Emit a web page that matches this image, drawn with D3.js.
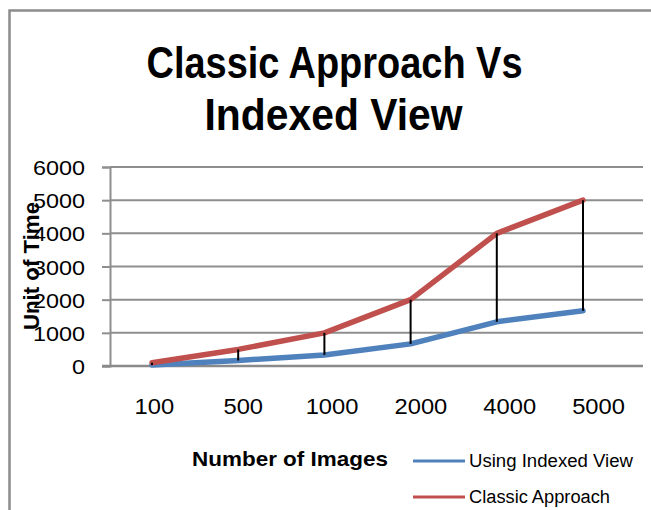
<!DOCTYPE html>
<html>
<head>
<meta charset="utf-8">
<script src="https://cdn.jsdelivr.net/npm/d3@7"></script>
<style>
  html, body { margin: 0; padding: 0; background: #fff; }
  svg { display: block; font-family: "Liberation Sans", Arial, sans-serif; }
</style>
</head>
<body>
<svg id="chart" width="651" height="510"></svg>
<script>
// ---- data ----
const categories = ["100", "500", "1000", "2000", "4000", "5000"];
const indexedView = [33, 167, 333, 667, 1333, 1667];
const classicApproach = [100, 500, 1000, 2000, 4000, 5000];
const yTicks = [0, 1000, 2000, 3000, 4000, 5000, 6000];
const seriesNames = ["Using Indexed View", "Classic Approach"];
const seriesColors = ["#4F81BD", "#C0504D"];

const svg = d3.select("#chart");

// outer chart border (only top and left visible)
svg.append("path")
  .attr("d", "M9.5,520 V10.5 H700")
  .attr("fill", "none").attr("stroke", "#8c8c8c").attr("stroke-width", 2.5);

// layout
const plotLeft = 110, plotRight = 643, plotTop = 167, plotBottom = 366;

const y = d3.scaleLinear().domain([0, 6000]).range([plotBottom, plotTop]);
const xLabel = d3.scaleBand().domain(categories).range([plotLeft, plotRight]);
const xMark = d3.scalePoint().domain(categories).range([152, 583]);

function fit(sel, w) {
  sel.attr("textLength", w).attr("lengthAdjust", "spacingAndGlyphs");
}

// gridlines
svg.append("g").selectAll("line").data(yTicks.filter(d => d > 0)).join("line")
  .attr("x1", plotLeft).attr("x2", plotRight)
  .attr("y1", d => y(d)).attr("y2", d => y(d))
  .attr("stroke", "#8e8e8e").attr("stroke-width", 2);

// y axis
const yAxis = svg.append("g").attr("transform", `translate(${plotLeft},0)`)
  .call(d3.axisLeft(y).tickValues(yTicks).tickSize(8).tickFormat(d3.format("d")));
yAxis.select(".domain").attr("stroke", "#8e8e8e").attr("stroke-width", 2);
yAxis.selectAll(".tick line").attr("stroke", "#8e8e8e").attr("stroke-width", 2);
yAxis.selectAll(".tick text")
  .attr("x", -25).attr("dy", null)
  .attr("dominant-baseline", "central")
  .attr("font-size", 21).attr("fill", "#000")
  .style("font-family", "Liberation Sans, Arial, sans-serif")
  .each(function(d) { fit(d3.select(this), String(d).length * 13); });

// x axis baseline
svg.append("line")
  .attr("x1", plotLeft - 8).attr("x2", plotRight)
  .attr("y1", plotBottom).attr("y2", plotBottom)
  .attr("stroke", "#8a8a8a").attr("stroke-width", 2.5);

// x tick labels
svg.append("g").selectAll("text").data(categories).join("text")
  .attr("x", d => xLabel(d) + xLabel.bandwidth() / 2)
  .attr("y", 406)
  .attr("text-anchor", "middle")
  .attr("dominant-baseline", "central")
  .attr("font-size", 22)
  .text(d => d)
  .each(function(d) { fit(d3.select(this), d.length * 13.2); });

// series lines
const line = d3.line().x((d, i) => xMark(categories[i])).y(d => y(d));
[indexedView, classicApproach].forEach((vals, k) => {
  svg.append("path").datum(vals)
    .attr("d", line)
    .attr("fill", "none")
    .attr("stroke", seriesColors[k])
    .attr("stroke-width", 5.5)
    .attr("stroke-linejoin", "round")
    .attr("stroke-linecap", "round");
});

// high-low lines
svg.append("g").selectAll("line").data(categories).join("line")
  .attr("x1", d => xMark(d)).attr("x2", d => xMark(d))
  .attr("y1", (d, i) => y(classicApproach[i]))
  .attr("y2", (d, i) => y(indexedView[i]))
  .attr("stroke", "#000").attr("stroke-width", 2);

// title
const title = svg.append("g").attr("font-weight", "bold").attr("font-size", 44).attr("text-anchor", "middle");
title.append("text").attr("x", 334.5).attr("y", 78).text("Classic Approach Vs").call(fit, 376);
title.append("text").attr("x", 333.5).attr("y", 130).text("Indexed View").call(fit, 258);

// y axis title
svg.append("text")
  .attr("transform", "translate(39,266) rotate(-90)")
  .attr("text-anchor", "middle")
  .attr("font-weight", "bold").attr("font-size", 22)
  .text("Unit of Time").call(fit, 128);

// x axis title
svg.append("text")
  .attr("x", 192).attr("y", 466)
  .attr("font-weight", "bold").attr("font-size", 21)
  .text("Number of Images").call(fit, 196);

// legend
const legendY = [461, 497];
const legendW = [164, 141];
seriesNames.forEach((name, k) => {
  svg.append("line")
    .attr("x1", 413).attr("x2", 465)
    .attr("y1", legendY[k]).attr("y2", legendY[k])
    .attr("stroke", seriesColors[k]).attr("stroke-width", 3);
  svg.append("text")
    .attr("x", 469).attr("y", legendY[k] + 6)
    .attr("font-size", 18)
    .text(name).call(fit, legendW[k]);
});
</script>
</body>
</html>
